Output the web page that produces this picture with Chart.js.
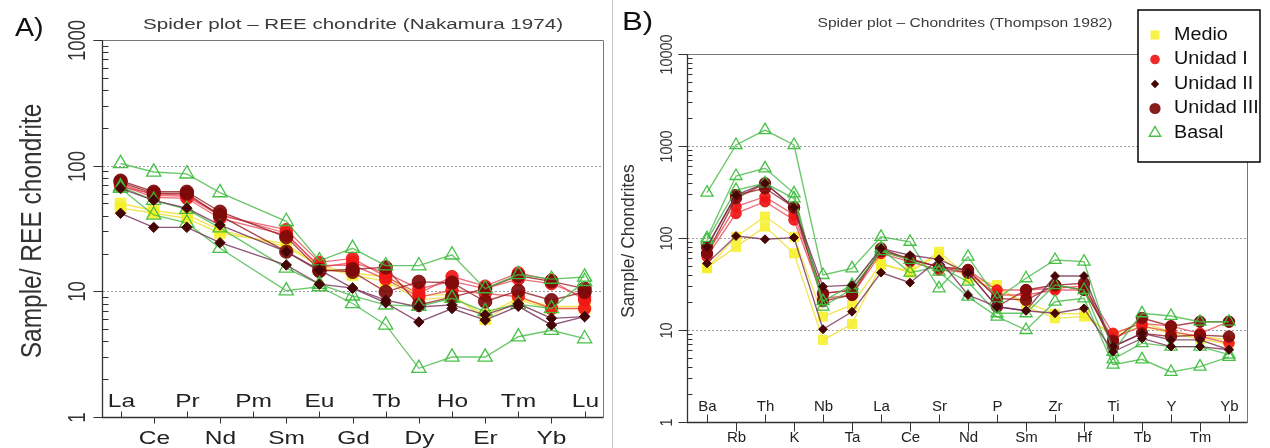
<!DOCTYPE html>
<html><head><meta charset="utf-8">
<script src="https://cdn.jsdelivr.net/npm/chart.js@4.4.0/dist/chart.umd.min.js"></script>
<style>
html,body{margin:0;padding:0;background:#fff;}
body{width:1270px;height:448px;position:relative;overflow:hidden;}
#cA{position:absolute;left:0;top:0;}
#cB{position:absolute;left:614px;top:0;}
#sep{position:absolute;left:612px;top:0;width:1px;height:448px;background:#c4c4c4;}
</style></head><body>
<canvas id="cA" width="612" height="448"></canvas>
<div id="sep"></div>
<canvas id="cB" width="656" height="448"></canvas>
<script>
// ---------- categories / ticks ----------
const reeLabels = ['La','Ce','Pr','Nd','Pm','Sm','Eu','Gd','Tb','Dy','Ho','Er','Tm','Yb','Lu'];
const spiderLabels = ['Ba','Rb','Th','K','Nb','Ta','La','Ce','Sr','Nd','P','Sm','Zr','Hf','Ti','Tb','Y','Tm','Yb'];
const yTicksA = [1, 10, 100, 1000];
const yTicksB = [1, 10, 100, 1000, 10000];
const groupNames = ['Medio', 'Unidad I', 'Unidad II', 'Unidad III', 'Basal'];

// ---------- Panel A: REE chondrite (Nakamura 1974) ----------
const reeMedio1     = [50, 44, 40.5, 30.8, null, 22.6, 16, 14, 13, 9.2, 9.5, 6.0, 8.5, 7.3, 7.3];
const reeMedio2     = [46, 42, 38, 29, null, 24, 15.5, 13.5, 12, 8.6, 9, 6.5, 8.8, 7.6, 7.6];
const reeUnidadI1   = [72, 58, 57, 40, null, 31, 17, 18.3, 13.1, 9.6, 13.1, 11.0, 14.0, 12.3, 8.5];
const reeUnidadI2   = [70, 56, 55, 38, null, 28, 16, 16.2, 12.5, 9.0, 10.2, 9.6, 9.1, 7.3, 7.3];
const reeUnidadI3   = [68, 60, 58, 41, null, 29, 15.5, 17, 14, 10.5, 12, 10.5, 12.5, 11.5, 9];
const reeUnidadII1  = [41.8, 32.3, 32.3, 24.4, null, 16.2, 11.4, 10.6, 8.1, 5.7, 7.3, 5.9, 7.6, 5.4, 6.3];
const reeUnidadII2  = [66, 53, 45.9, 33.7, null, 20.7, 14.8, 10.6, 8.5, 7.5, 7.8, 6.5, 8.0, 6.1, 6.3];
const reeUnidadIII1 = [76, 62, 62, 43, null, 27, 14.8, 14.3, 9.9, 11.9, 11.7, 8.3, 10.1, 8.5, 9.9];
const reeUnidadIII2 = [74, 60, 60, 40, null, 20.7, 14.5, 15, 15.5, 7.8, 9.0, 10.5, 13.3, 12.0, 10.5];
const reeBasal1     = [104, 89, 86, 61, null, 36, 17.5, 22, 16, 16, 19.5, 10.5, 13.6, 12.5, 13];
const reeBasal2     = [68, 53, 45, 32, null, 15.3, 11.4, 9.2, 7.8, 7.6, 8.8, 6.9, 7.9, 7.3, 12];
const reeBasal3     = [66, 40.5, 35, 22, null, 10.1, 10.9, 8.0, 5.4, 2.44, 3.0, 3.0, 4.35, 4.9, 4.2];

// ---------- Panel B: Chondrites (Thompson 1982) ----------
const spMedio1     = [46.8, 103, 171, 103, 14, 18.7, 53, 42, 71, 38, 30.8, 18, 13.4, 14, 9.0, 12, 9.6, 8.5, 7.8];
const spMedio2     = [48, 80, 133, 68, 7.8, 11.6, 51, 44, 65, 36, 28, 20, 15, 15, 8.5, 11, 9.2, 8.0, 7.0];
const spUnidadI1   = [68, 219, 281, 178, 25, 27.2, 72, 57.7, 48.8, 45, 27.2, 27.2, 28.4, 30, 9.2, 11.8, 11, 9.2, 12.3];
const spUnidadI2   = [62.6, 185, 248, 157, 22, 24, 68, 55, 45, 42, 24, 24, 27.2, 27.2, 8.1, 11, 9.6, 8.5, 7.2];
const spUnidadII1  = [53, 105, 97, 101, 10.2, 15.8, 42, 32.7, 58.7, 24, 17.9, 16.2, 15.2, 17.2, 5.8, 8.1, 6.6, 6.6, 6.1];
const spUnidadII2  = [80, 293, 393, 215, 29.6, 30.8, 77, 65, 58.7, 42, 17.9, 16.2, 38.6, 38.6, 6.6, 9.2, 7.8, 7.8, 6.1];
const spUnidadIII1 = [80, 293, 347, 215, 20.6, 24, 77, 57.7, 48.8, 45, 22.1, 21.2, 30.8, 32.2, 6.6, 9.2, 8.5, 8.8, 8.5];
const spUnidadIII2 = [68, 270, 393, 215, 25, 27, 72, 60, 48, 42, 17.9, 27.2, 30.8, 27.2, 7.6, 13.5, 11, 12.3, 12.3];
const spBasal1     = [311, 1025, 1490, 1025, 39.6, 46.8, 103, 91, 28.4, 62.6, 22, 36.5, 57.7, 55.3, 5.8, 15.2, 14.2, 12.3, 12.3];
const spBasal2     = [100, 472, 572, 306, 17.9, 28, 72, 57.7, 43, 23, 14, 10, 20.3, 22.1, 4.2, 4.8, 3.5, 4.0, 5.1];
const spBasal3     = [95, 332, 393, 270, 20.6, 30.8, 77, 42, 48.8, 33.5, 15.2, 15.2, 30.8, 27.2, 4.8, 7.2, 6.6, 6.6, 5.4];

// ---------- styles ----------
const STYLE = {
  'Medio':      {line:'rgba(240,225,60,0.85)', fill:'rgba(246,240,40,0.85)', stroke:'rgba(246,240,40,0.85)', shape:'rect', r:7.5, order:5, bw:1},
  'Unidad I':   {line:'rgba(228,60,75,0.75)', fill:'rgba(240,22,22,0.92)', stroke:'rgba(240,22,22,0.92)', shape:'circle', r:6.2, order:4, bw:1},
  'Unidad II':  {line:'rgba(115,45,85,0.8)', fill:'rgba(70,5,5,1)', stroke:'rgba(70,5,5,1)', shape:'rectRot', r:5.2, order:1, bw:1},
  'Unidad III': {line:'rgba(150,30,35,0.8)', fill:'rgba(125,10,10,0.92)', stroke:'rgba(125,10,10,0.92)', shape:'circle', r:6.7, order:3, bw:1},
  'Basal':      {line:'rgba(70,185,70,0.8)', fill:'rgba(255,255,255,0)', stroke:'rgba(60,190,60,0.95)', shape:'triangle', r:8.2, order:2, bw:1.3}
};

function makeDataset(group, values, k) {
  const s = STYLE[group];
  return {
    label: group,
    data: values.map((v, i) => ({x: i, y: v})),
    borderColor: s.line, borderWidth: 1.35,
    pointStyle: s.shape, pointRadius: s.r * k, pointHoverRadius: s.r * k,
    pointBackgroundColor: s.fill, pointBorderColor: s.stroke, pointBorderWidth: s.bw,
    fill: false, tension: 0, spanGaps: true, order: s.order
  };
}

const FONT = '"Liberation Sans", Arial, sans-serif';
function txt(ctx, text, x, y, o) {
  ctx.save();
  ctx.translate(x, y);
  if (o.rot) ctx.rotate(o.rot);
  ctx.font = (o.weight || '') + ' ' + o.size + 'px ' + FONT;
  let sx = o.sx || 1;
  if (o.fitW) sx = o.fitW / ctx.measureText(text).width;
  ctx.scale(sx, o.sy || 1);
  ctx.fillStyle = o.color || '#222';
  ctx.textAlign = o.align || 'center';
  ctx.textBaseline = o.base || 'alphabetic';
  ctx.fillText(text, 0, 0);
  ctx.restore();
}

function panelPlugin(cfg) {
  return {
    id: 'panel_' + cfg.id,
    beforeDatasetsDraw(chart) {
      const ctx = chart.ctx, a = chart.chartArea, ys = chart.scales.y;
      ctx.save();
      ctx.strokeStyle = '#a0a0a0'; ctx.lineWidth = 1; ctx.setLineDash([2, 2]);
      cfg.grid.forEach(v => {
        const py = Math.round(ys.getPixelForValue(v)) + 0.5;
        ctx.beginPath(); ctx.moveTo(a.left + 1, py); ctx.lineTo(a.right, py); ctx.stroke();
      });
      ctx.restore();
    },
    afterDraw(chart) {
      const ctx = chart.ctx, a = chart.chartArea, ys = chart.scales.y, xs = chart.scales.x;
      const L = Math.round(a.left) + 0.5, R = Math.round(a.right) + 0.5;
      const T = Math.round(a.top) + 0.5, B = Math.round(a.bottom) + 0.5;
      ctx.save();
      ctx.strokeStyle = '#777'; ctx.lineWidth = 1;
      ctx.beginPath(); ctx.moveTo(L - cfg.majorLen, T); ctx.lineTo(R, T); ctx.lineTo(R, B); ctx.stroke();
      ctx.strokeStyle = '#333'; ctx.lineWidth = 1.3;
      ctx.beginPath(); ctx.moveTo(L, T); ctx.lineTo(L, B); ctx.lineTo(R, B); ctx.stroke();
      ctx.lineWidth = 1;
      cfg.yTicks.forEach((v, idx) => {
        const py = Math.round(ys.getPixelForValue(v)) + 0.5;
        ctx.beginPath(); ctx.moveTo(L - cfg.majorLen, py); ctx.lineTo(L, py); ctx.stroke();
        txt(ctx, String(v), cfg.yLabX, py, {size: cfg.yLabSize, rot: -Math.PI / 2, sy: cfg.yLabSy, color: '#333'});
        if (idx < cfg.yTicks.length - 1) {
          for (let m = 2; m <= 9; m++) {
            const pm = Math.round(ys.getPixelForValue(v * m)) + 0.5;
            ctx.beginPath(); ctx.moveTo(L, pm); ctx.lineTo(L + cfg.minorLen, pm); ctx.stroke();
          }
        }
      });
      cfg.labels.forEach((lab, i) => {
        const px = Math.round(xs.getPixelForValue(i)) + 0.5;
        ctx.beginPath();
        if (i % 2 === 0) { ctx.moveTo(px, B); ctx.lineTo(px, B - cfg.xTickUp); }
        else { ctx.moveTo(px, B); ctx.lineTo(px, B + cfg.xTickDown); }
        ctx.stroke();
        txt(ctx, lab, px, i % 2 === 0 ? cfg.labUpY : cfg.labDownY, {size: cfg.xLabSize, sx: cfg.xLabSx, color: '#222'});
      });
      txt(ctx, cfg.title, cfg.titleX, cfg.titleY, {size: cfg.titleSize, fitW: cfg.titleW, color: '#3a3a3a'});
      txt(ctx, cfg.letter, cfg.letterX, cfg.letterY, {size: cfg.letterSize, sx: cfg.letterSx, align: 'left', color: '#111'});
      txt(ctx, cfg.yTitle, cfg.yTitleX, cfg.yTitleY, {size: cfg.yTitleSize, rot: -Math.PI / 2, sy: cfg.yTitleSy, color: '#333'});
      if (cfg.legend) {
        const lg = cfg.legend;
        ctx.fillStyle = '#fff';
        ctx.fillRect(lg.x, lg.y, lg.w, lg.h);
        ctx.strokeStyle = '#111'; ctx.lineWidth = 1.6;
        ctx.strokeRect(lg.x, lg.y, lg.w, lg.h);
        groupNames.forEach((g, i) => {
          const s = STYLE[g];
          const cy = lg.firstY + i * lg.step, cx = lg.markX;
          ctx.save();
          ctx.fillStyle = s.fill; ctx.strokeStyle = s.stroke; ctx.lineWidth = s.bw;
          ctx.beginPath();
          if (s.shape === 'rect') { ctx.rect(cx - 4.5, cy - 4.5, 9, 9); ctx.fill(); }
          else if (s.shape === 'circle') { ctx.arc(cx, cy, g === 'Unidad I' ? 4.8 : 5.6, 0, Math.PI * 2); ctx.fill(); }
          else if (s.shape === 'rectRot') { const r = 4.2; ctx.moveTo(cx, cy - r); ctx.lineTo(cx + r, cy); ctx.lineTo(cx, cy + r); ctx.lineTo(cx - r, cy); ctx.closePath(); ctx.fill(); }
          else { const r = 6.5; ctx.moveTo(cx, cy - r); ctx.lineTo(cx + r * 0.866, cy + r * 0.5); ctx.lineTo(cx - r * 0.866, cy + r * 0.5); ctx.closePath(); ctx.lineWidth = 1.4; ctx.stroke(); }
          ctx.restore();
          txt(ctx, g, lg.textX, cy, {size: lg.size, sx: lg.sx, align: 'left', base: 'middle', color: '#111'});
        });
      }
      ctx.restore();
    }
  };
}

function makeChart(id, labels, list, k, pad, xr, ymax, cfg) {
  const datasets = list.map(([g, vals]) => makeDataset(g, vals, k));
  return new Chart(document.getElementById(id), {
    type: 'line',
    data: {datasets},
    options: {
      responsive: false, animation: false, devicePixelRatio: 1,
      layout: {padding: pad},
      plugins: {legend: {display: false}, tooltip: {enabled: false}, title: {display: false}},
      scales: {
        x: {type: 'linear', min: xr[0], max: xr[1], display: false},
        y: {type: 'logarithmic', min: 1, max: ymax, display: false}
      }
    },
    plugins: [panelPlugin(Object.assign({labels}, cfg))]
  });
}

makeChart('cA', reeLabels, [
  ['Medio', reeMedio1], ['Medio', reeMedio2],
  ['Unidad I', reeUnidadI1], ['Unidad I', reeUnidadI2], ['Unidad I', reeUnidadI3],
  ['Unidad II', reeUnidadII1], ['Unidad II', reeUnidadII2],
  ['Unidad III', reeUnidadIII1], ['Unidad III', reeUnidadIII2],
  ['Basal', reeBasal1], ['Basal', reeBasal2], ['Basal', reeBasal3]
], 1, {left: 102, top: 40, right: 9, bottom: 31}, [-0.56, 14.54], 1000, {
  id: 'A', grid: [10, 100], yTicks: yTicksA, majorLen: 9, minorLen: 6,
  yLabX: 85, yLabSize: 18.5, yLabSy: 1.3,
  xTickUp: 6, xTickDown: 6, labUpY: 407, labDownY: 444, xLabSize: 17.5, xLabSx: 1.4,
  title: 'Spider plot \u2013 REE chondrite (Nakamura 1974)', titleX: 353, titleY: 29, titleSize: 14, titleW: 420,
  letter: 'A)', letterX: 15, letterY: 36, letterSize: 26, letterSx: 1.1,
  yTitle: 'Sample/ REE chondrite', yTitleX: 41, yTitleY: 231, yTitleSize: 24.5, yTitleSy: 1.2
});

makeChart('cB', spiderLabels, [
  ['Medio', spMedio1], ['Medio', spMedio2],
  ['Unidad I', spUnidadI1], ['Unidad I', spUnidadI2],
  ['Unidad II', spUnidadII1], ['Unidad II', spUnidadII2],
  ['Unidad III', spUnidadIII1], ['Unidad III', spUnidadIII2],
  ['Basal', spBasal1], ['Basal', spBasal2], ['Basal', spBasal3]
], 0.85, {left: 73, top: 54, right: 23, bottom: 26}, [-0.69, 18.62], 10000, {
  id: 'B', grid: [10, 100, 1000], yTicks: yTicksB, majorLen: 9, minorLen: 5,
  yLabX: 58, yLabSize: 14.5, yLabSy: 1.1,
  xTickUp: 8, xTickDown: 9, labUpY: 411, labDownY: 442, xLabSize: 15, xLabSx: 1.0,
  title: 'Spider plot \u2013 Chondrites (Thompson 1982)', titleX: 351, titleY: 27, titleSize: 13.5, titleW: 295,
  letter: 'B)', letterX: 8, letterY: 30, letterSize: 26, letterSx: 1.2,
  yTitle: 'Sample/ Chondrites', yTitleX: 20, yTitleY: 241, yTitleSize: 17.5, yTitleSy: 1.0,
  legend: {x: 524, y: 10, w: 122, h: 152, firstY: 35, step: 24.5, markX: 541, textX: 560, size: 17.5, sx: 1.13}
});
</script></body></html>
